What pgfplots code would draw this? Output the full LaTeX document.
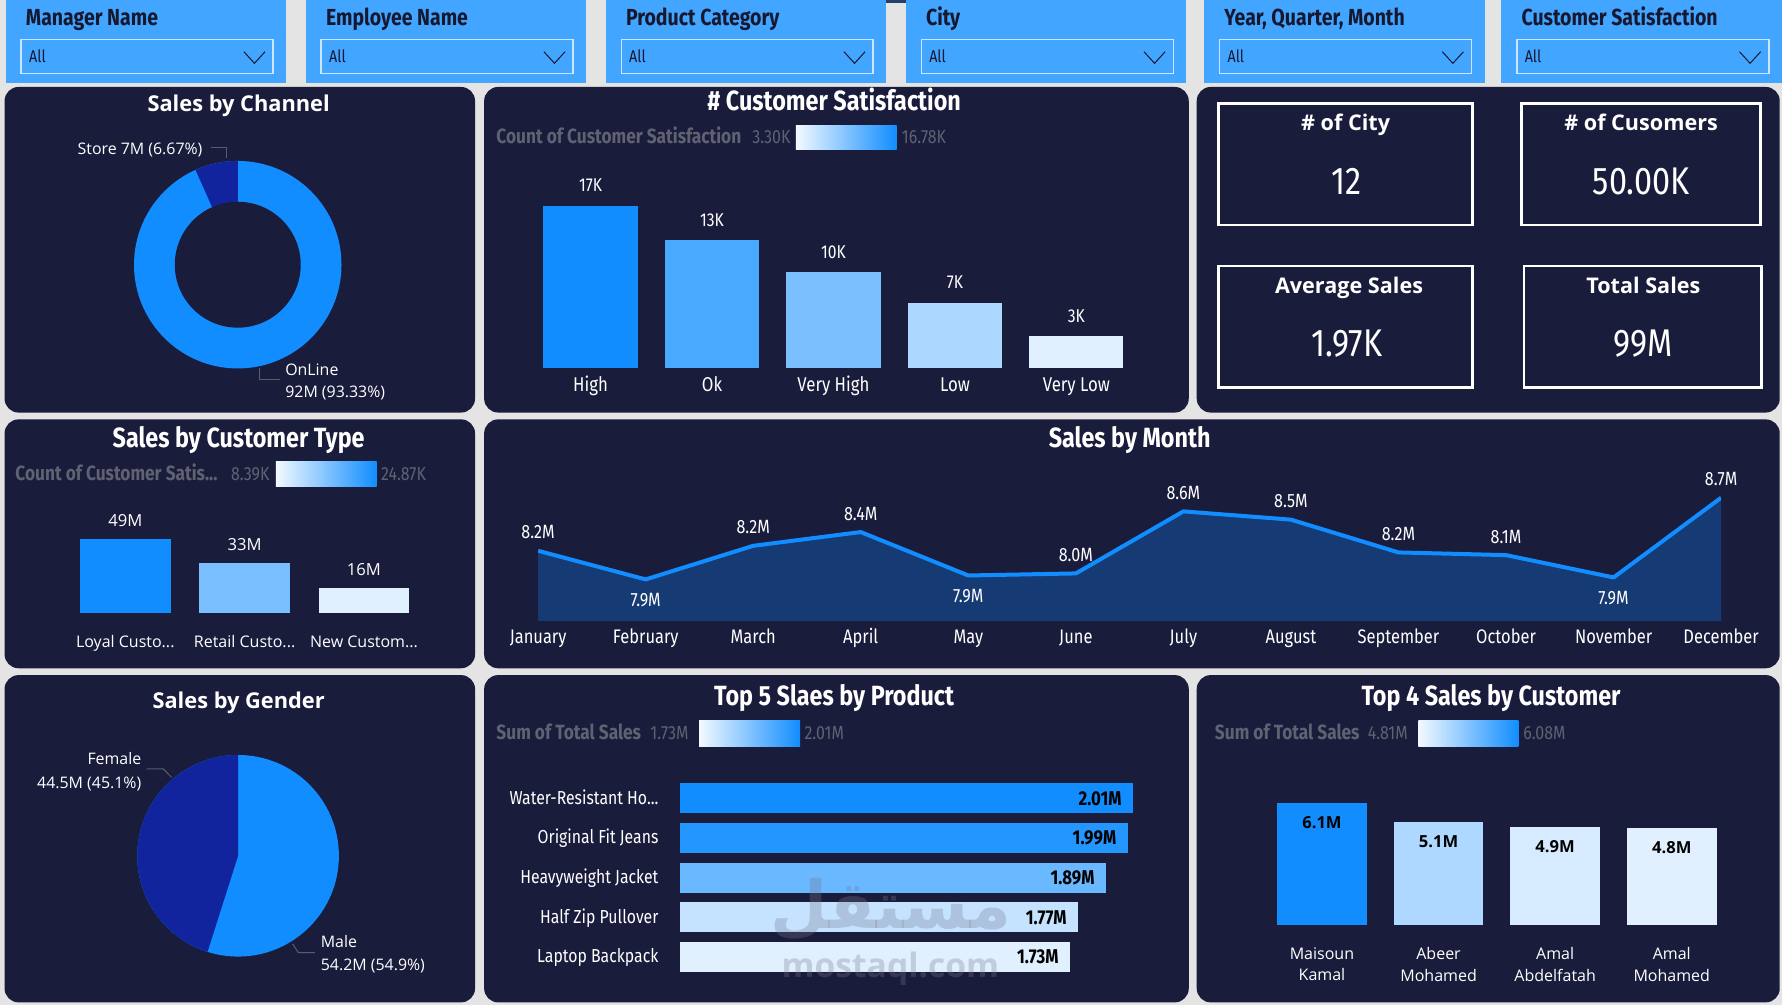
\documentclass[border=0pt]{standalone}
\usepackage{pgfplots}
\pgfplotsset{compat=1.18}
\usepackage{fontspec}
\setmainfont{Open Sans}
\newfontfamily\din[FakeStretch=0.84]{Fira Sans}
\newfontfamily\arabicfont[Script=Arabic]{DejaVu Sans}
\TeXXeTstate=1
\newlength\U \setlength\U{0.56824pt}
\newlength\Un \setlength\Un{-0.56824pt}
\newcommand\fs[1]{\fontsize{#1}{#1}\selectfont}
\newcommand\dd{...}
\definecolor{bg}{RGB}{228,228,228}
\definecolor{panel}{RGB}{26,28,60}
\definecolor{filt}{RGB}{66,165,255}
\definecolor{ddline}{RGB}{205,230,255}
\definecolor{navytxt}{RGB}{22,24,48}
\definecolor{pbmax}{RGB}{17,141,255}
\definecolor{pbmin}{RGB}{224,240,255}
\definecolor{dkblue}{RGB}{18,35,158}
\definecolor{legtxt}{RGB}{96,98,114}
\definecolor{leader}{RGB}{90,92,110}
\definecolor{areafill}{RGB}{22,58,115}
\definecolor{wm}{RGB}{120,120,140}
\pgfplotsset{
  pbi/.style={scale only axis, axis line style={draw=none}, tick style={draw=none},
    clip=false, ticklabel style={text=white}, ytick=\empty},
}
\begin{document}
\begin{tikzpicture}[x=\U,y=\Un]
\path[use as bounding box] (0,0) rectangle (1568,884);
\clip (0,0) rectangle (1568,884);
\fill[bg] (0,0) rectangle (1568,884);
% ---------- filters ----------
\fill[panel!75!filt] (774,0) rectangle (906,3);
\foreach \xa/\t in {5/Manager Name, 269/Employee Name, 533/Product Category, 797/City, 1059.5/{Year, Quarter, Month}, 1321/Customer Satisfaction}{
  \fill[filt] (\xa,0) rectangle ++(247,73);
  \node[anchor=base west, inner sep=0pt, text=navytxt, font=\din\bfseries\fs{11.6}] at (\xa+17.5,22.5) {\t};
  \draw[ddline, line width=0.8pt] (\xa+13.7,34.6) rectangle ++(221.7,29.9);
  \node[anchor=base west, inner sep=0pt, text=navytxt, font=\din\fs{8.5}] at (\xa+20.3,55) {All};
  \draw[navytxt, line width=0.5pt] (\xa+209.6,45.5) -- ++(9.3,10.2) -- ++(9.3,-10.2);
}
% ---------- panels ----------
\foreach \a/\b/\c/\d in {4/76.5/418/363, 426/76.5/1046/363, 1053/76.5/1566/363, 4/369/418/588, 426/369/1566/588, 4/594/418/882, 426/594/1046/882, 1053/594/1566/882}
  \fill[panel, rounded corners=7pt] (\a,\b) rectangle (\c,\d);
% ---------- titles ----------
\node[anchor=base, inner sep=0pt, white, font=\bfseries\fs{10.9}] at (210,98) {Sales by Channel};
\node[anchor=base, inner sep=0pt, white, font=\din\bfseries\fs{13.9}] at (734,97) {\# Customer Satisfaction};
\node[anchor=base, inner sep=0pt, white, font=\din\bfseries\fs{13.9}] at (210,393.5) {Sales by Customer Type};
\node[anchor=base, inner sep=0pt, white, font=\din\bfseries\fs{13.9}] at (994,393.5) {Sales by Month};
\node[anchor=base, inner sep=0pt, white, font=\bfseries\fs{10.9}] at (210,623) {Sales by Gender};
\node[anchor=base, inner sep=0pt, white, font=\din\bfseries\fs{13.9}] at (734,621) {Top 5 Slaes by Product};
\node[anchor=base, inner sep=0pt, white, font=\din\bfseries\fs{13.9}] at (1312,621) {Top 4 Sales by Customer};
% ---------- gradient legends ----------
\node[anchor=base west, inner sep=0pt, text=legtxt, font=\din\bfseries\fs{10.3}] at (436.5,126) {Count of Customer Satisfaction};
\node[anchor=base west, inner sep=0pt, text=legtxt, font=\din\fs{9.5}] at (661.6,126) {3.30K};
\shade[left color=pbmin!40!white, right color=pbmax] (700.4,110) rectangle (788.9,131.4);
\node[anchor=base west, inner sep=0pt, text=legtxt, font=\din\fs{9.5}] at (793.3,126) {16.78K};
\node[anchor=base west, inner sep=0pt, text=legtxt, font=\din\bfseries\fs{10.3}] at (13.2,422.5) {Count of Customer Satis\dd};
\node[anchor=base west, inner sep=0pt, text=legtxt, font=\din\fs{9.5}] at (203,422.5) {8.39K};
\shade[left color=pbmin!40!white, right color=pbmax] (242.8,406.3) rectangle (331.4,428.5);
\node[anchor=base west, inner sep=0pt, text=legtxt, font=\din\fs{9.5}] at (335,422.5) {24.87K};
\node[anchor=base west, inner sep=0pt, text=legtxt, font=\din\bfseries\fs{10.3}] at (436.5,650.5) {Sum of Total Sales};
\node[anchor=base west, inner sep=0pt, text=legtxt, font=\din\fs{9.5}] at (571.9,650.5) {1.73M};
\shade[left color=pbmin!40!white, right color=pbmax] (615.1,634.4) rectangle (704,656.4);
\node[anchor=base west, inner sep=0pt, text=legtxt, font=\din\fs{9.5}] at (707.6,650.5) {2.01M};
\node[anchor=base west, inner sep=0pt, text=legtxt, font=\din\bfseries\fs{10.3}] at (1068.7,650.5) {Sum of Total Sales};
\node[anchor=base west, inner sep=0pt, text=legtxt, font=\din\fs{9.5}] at (1203.2,650.5) {4.81M};
\shade[left color=pbmin!40!white, right color=pbmax] (1248,634.4) rectangle (1336.1,656.4);
\node[anchor=base west, inner sep=0pt, text=legtxt, font=\din\fs{9.5}] at (1340.1,650.5) {6.08M};
% ---------- KPI cards ----------
\draw[white, line width=1.4pt] (1072,91) rectangle (1296,198);
\draw[white, line width=1.4pt] (1339,91) rectangle (1549,198);
\draw[white, line width=1.4pt] (1072,234) rectangle (1296,341);
\draw[white, line width=1.4pt] (1341,234) rectangle (1550,341);
\node[anchor=base, inner sep=0pt, white, font=\bfseries\fs{10.8}] at (1184,115) {\# of City};
\node[anchor=base, inner sep=0pt, white, font=\din\fs{19.3}] at (1185,171) {12};
\node[anchor=base, inner sep=0pt, white, font=\bfseries\fs{10.8}] at (1444,115) {\# of Cusomers};
\node[anchor=base, inner sep=0pt, white, font=\din\fs{19.3}] at (1444,171) {50.00K};
\node[anchor=base, inner sep=0pt, white, font=\bfseries\fs{10.8}] at (1187,258) {Average Sales};
\node[anchor=base, inner sep=0pt, white, font=\din\fs{19.3}] at (1185,314) {1.97K};
\node[anchor=base, inner sep=0pt, white, font=\bfseries\fs{10.8}] at (1446,258) {Total Sales};
\node[anchor=base, inner sep=0pt, white, font=\din\fs{19.3}] at (1446,314) {99M};
% ---------- donut: sales by channel ----------
\coordinate (dn) at (209.2,232.9);
\pgfmathsetmacro\storeend{90+3.6*6.67}
\begin{axis}[hide axis, scale only axis, at={(dn)}, anchor=center, width=103.76pt, height=103.76pt,
  xmin=-1,xmax=1,ymin=-1,ymax=1, clip=false]
\fill[pbmax] (axis cs:0,0) circle[radius=51.88pt];
\fill[dkblue] (axis cs:0,0) -- +(90:51.88pt) arc[start angle=90, end angle=\storeend, radius=51.88pt] -- cycle;
\fill[panel] (axis cs:0,0) circle[radius=31.48pt];
\end{axis}
\node[anchor=base west, inner sep=0pt, white, font=\fs{7.95}] at (68,136) {Store 7M (6.67\%)};
\draw[leader, line width=0.5pt] (186,129.6) -- (199.4,129.6) -- (199.4,139.3);
\node[anchor=base west, inner sep=0pt, white, font=\fs{7.95}] at (250.7,330) {OnLine};
\node[anchor=base west, inner sep=0pt, white, font=\fs{7.95}] at (250.7,350) {92M (93.33\%)};
\draw[leader, line width=0.5pt] (228.7,324) -- (228.7,333.5) -- (246.3,333.5);
% ---------- pie: sales by gender ----------
\coordinate (gn) at (209.5,753);
\pgfmathsetmacro\femend{90+3.6*45.1}
\begin{axis}[hide axis, scale only axis, at={(gn)}, anchor=center, width=100.8pt, height=100.8pt,
  xmin=-1,xmax=1,ymin=-1,ymax=1, clip=false]
\fill[pbmax] (axis cs:0,0) circle[radius=50.4pt];
\fill[dkblue] (axis cs:0,0) -- +(90:50.4pt) arc[start angle=90, end angle=\femend, radius=50.4pt] -- cycle;
\end{axis}
\node[anchor=base east, inner sep=0pt, white, font=\fs{7.95}] at (124.6,673) {Female};
\node[anchor=base east, inner sep=0pt, white, font=\fs{7.95}] at (124.6,693.6) {44.5M (45.1\%)};
\draw[leader, line width=0.5pt] (129,676.6) -- (143.7,676.6) -- (151,684);
\node[anchor=base west, inner sep=0pt, white, font=\fs{7.95}] at (282,834) {Male};
\node[anchor=base west, inner sep=0pt, white, font=\fs{7.95}] at (282,854) {54.2M (54.9\%)};
\draw[leader, line width=0.5pt] (257.5,830.6) -- (262.5,838.2) -- (277,838.2);
% ---------- customer satisfaction bars ----------
\coordinate (csA) at (466.15,324.1);
\begin{axis}[pbi, at={(csA)}, anchor=south west, width=303.7pt, height=87.2pt,
  xmin=-0.5, xmax=4.5, ymin=0, ymax=18, xtick={0,...,4},
  xticklabels={High,Ok,Very High,Low,Very Low},
  xticklabel style={font=\din\fs{10}, anchor=base, inner sep=0pt, yshift=-7.1pt},
  ybar, bar width=47.05pt, bar shift=0pt,
  every node near coord/.append style={font=\din\fs{9.3}, text=white, anchor=south, inner sep=0pt, yshift=6.8pt}]
\addplot[fill=pbmax, draw=none, nodes near coords={17K}] coordinates {(0,16.78)};
\addplot[fill=pbmax!73!pbmin, draw=none, nodes near coords={13K}] coordinates {(1,13.2)};
\addplot[fill=pbmax!49!pbmin, draw=none, nodes near coords={10K}] coordinates {(2,9.9)};
\addplot[fill=pbmax!25!pbmin, draw=none, nodes near coords={7K}] coordinates {(3,6.74)};
\addplot[fill=pbmin, draw=none, nodes near coords={3K}] coordinates {(4,3.30)};
\end{axis}
% ---------- customer type bars ----------
\coordinate (ctA) at (57.75,539.4);
\begin{axis}[pbi, at={(ctA)}, anchor=south west, width=179pt, height=41.37pt,
  xmin=-0.5,xmax=2.5,ymin=0,ymax=55, xtick={0,1,2},
  xticklabels={Loyal Custo\dd,Retail Custo\dd,New Custom\dd},
  xticklabel style={font=\fs{8}, anchor=base, inner sep=0pt, yshift=-13.1pt},
  ybar, bar width=45.29pt, bar shift=0pt,
  every node near coord/.append style={font=\fs{8.3}, text=white, anchor=south, inner sep=0pt, yshift=5.97pt}]
\addplot[fill=pbmax, draw=none, nodes near coords={49M}] coordinates {(0,49.4)};
\addplot[fill=pbmax!50!pbmin, draw=none, nodes near coords={33M}] coordinates {(1,33.0)};
\addplot[fill=pbmin, draw=none, nodes near coords={16M}] coordinates {(2,16.4)};
\end{axis}
% ---------- sales by month ----------
\coordinate (mA) at (473.5,546.4);
\begin{axis}[pbi, clip=true, at={(mA)}, anchor=south west, width=591.5pt, height=77.56pt,
  xmin=0,xmax=11,ymin=7.5,ymax=9, xtick={0,...,11},
  xticklabels={January,February,March,April,May,June,July,August,September,October,November,December},
  xticklabel style={font=\din\fs{9.8}, anchor=base, inner sep=0pt, yshift=-11.14pt}]
\addplot[fill=areafill, draw=none] coordinates {(0,8.179) (1,7.902) (2,8.227) (3,8.36) (4,7.94) (5,7.96) (6,8.56) (7,8.48) (8,8.163) (9,8.137) (10,7.921) (11,8.692)} \closedcycle;
\addplot[pbmax, line width=2pt, line join=round] coordinates {(0,8.179) (1,7.902) (2,8.227) (3,8.36) (4,7.94) (5,7.96) (6,8.56) (7,8.48) (8,8.163) (9,8.137) (10,7.921) (11,8.692)};
\addplot[draw=none, point meta=y,
  nodes near coords={\pgfmathprintnumber[fixed,fixed zerofill,precision=1,assume math mode=true]{\pgfplotspointmeta}M},
  nodes near coords style={font=\din\fs{9.6}, text=white, anchor=south, inner sep=0pt, yshift=5.68pt}]
  coordinates {(0,8.179) (2,8.227) (3,8.36) (5,7.96) (6,8.56) (7,8.48) (8,8.163) (9,8.137) (11,8.692)};
\addplot[draw=none, point meta=y,
  nodes near coords={\pgfmathprintnumber[fixed,fixed zerofill,precision=1,assume math mode=true]{\pgfplotspointmeta}M},
  nodes near coords style={font=\din\fs{9.6}, text=white, anchor=north, inner sep=0pt, yshift=-6.82pt}]
  coordinates {(1,7.902) (4,7.94) (10,7.921)};
\end{axis}
% ---------- top 5 products ----------
\coordinate (pA) at (598.6,859.45);
\begin{axis}[pbi, at={(pA)}, anchor=south west, width=236.5pt, height=99.16pt,
  xmin=0,xmax=2.1,ymin=-0.5,ymax=4.5, xtick=\empty, ytick={0,...,4},
  yticklabels={Laptop Backpack,Half Zip Pullover,Heavyweight Jacket,Original Fit Jeans,Water-Resistant Ho\dd},
  yticklabel style={font=\din\fs{9.4}, anchor=base east, inner sep=0pt, xshift=-6.48pt, yshift=-3pt},
  xbar, bar width=15pt, bar shift=0pt,
  every node near coord/.append style={font=\din\bfseries\fs{10}, text=black, anchor=east, inner sep=0pt, xshift=-5.51pt}]
\addplot[fill=pbmax, draw=none, nodes near coords={2.01M}] coordinates {(2.01,4)};
\addplot[fill=pbmax!91!pbmin, draw=none, nodes near coords={1.99M}] coordinates {(1.986,3)};
\addplot[fill=pbmax!57!pbmin, draw=none, nodes near coords={1.89M}] coordinates {(1.89,2)};
\addplot[fill=pbmax!13!pbmin, draw=none, nodes near coords={1.77M}] coordinates {(1.766,1)};
\addplot[fill=pbmin, draw=none, nodes near coords={1.73M}] coordinates {(1.73,0)};
\end{axis}
\node[text=wm, opacity=0.3, inner sep=0pt, font=\arabicfont\bfseries\fs{33}] at (784,800) {\beginR مستقل\endR};
\node[anchor=base, text=wm, opacity=0.3, inner sep=0pt, font=\bfseries\fs{16.8}] at (783.5,860) {mostaql.com};
% ---------- top 4 customers ----------
\coordinate (cA) at (1111.9,813.8);
\begin{axis}[pbi, at={(cA)}, anchor=south west, width=233.2pt, height=65.18pt,
  xmin=-0.5,xmax=3.5,ymin=0,ymax=6.5, xtick={0,...,3},
  xticklabels={{Maisoun\\Kamal},{Abeer\\Mohamed},{Amal\\Abdelfatah},{Amal\\Mohamed}},
  xticklabel style={font=\fontsize{8}{10.8}\selectfont, align=center, anchor=north, inner sep=0pt, yshift=-6.9pt},
  ybar, bar width=44.78pt, bar shift=0pt,
  every node near coord/.append style={font=\bfseries\fs{8.3}, text=black, anchor=north, inner sep=0pt, yshift=-6.53pt}]
\addplot[fill=pbmax, draw=none, nodes near coords={6.1M}] coordinates {(0,6.08)};
\addplot[fill=pbmax!24!pbmin, draw=none, nodes near coords={5.1M}] coordinates {(1,5.12)};
\addplot[fill=pbmax!5!pbmin, draw=none, nodes near coords={4.9M}] coordinates {(2,4.87)};
\addplot[fill=pbmin, draw=none, nodes near coords={4.8M}] coordinates {(3,4.81)};
\end{axis}
\end{tikzpicture}
\end{document}
